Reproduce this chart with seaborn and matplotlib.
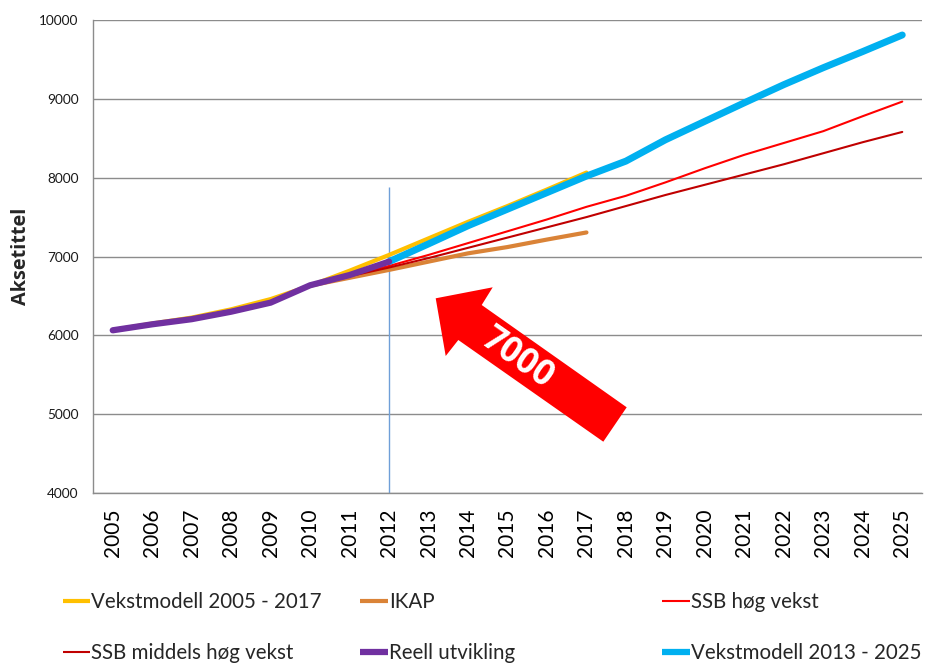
import numpy as np
import pandas as pd
import matplotlib
matplotlib.use("Agg")
import matplotlib.pyplot as plt
import seaborn as sns
from matplotlib.patches import Polygon
from matplotlib.lines import Line2D

# ---------------- data ----------------
years = list(range(2005, 2026))
nan = np.nan
vekst_2005_2017 = [6067, 6150, 6225, 6330, 6460, 6630, 6820, 7020, 7230, 7440, 7640, 7850, 8065] + [nan] * 8
ikap = [nan] * 5 + [6630, 6730, 6830, 6935, 7040, 7120, 7215, 7305] + [nan] * 8
ssb_hog = [nan] * 5 + [6630, 6760, 6880, 7020, 7170, 7320, 7470, 7630, 7770, 7940,
                       8120, 8290, 8440, 8590, 8780, 8965]
ssb_middels = [nan] * 5 + [6630, 6750, 6860, 6980, 7110, 7240, 7370, 7500, 7640, 7780,
                           7910, 8040, 8170, 8310, 8450, 8580]
reell = [6064, 6140, 6205, 6300, 6415, 6635, 6765, 6935] + [nan] * 13
vekst_2013_2025 = [nan] * 7 + [6935, 7160, 7390, 7600, 7810, 8020, 8210, 8480, 8715,
                               8950, 9180, 9395, 9600, 9810]

series_names = ["Vekstmodell 2005 - 2017", "IKAP", "SSB høg vekst",
                "SSB middels høg vekst", "Reell utvikling", "Vekstmodell 2013 - 2025"]
series_values = [vekst_2005_2017, ikap, ssb_hog, ssb_middels, reell, vekst_2013_2025]
series_colors = ["#FFC000", "#DA8337", "#FF0000", "#C00000", "#7030A0", "#00B0F0"]
series_widths = [3.0, 3.0, 1.5, 1.5, 4.5, 5.0]
draw_order = [0, 1, 2, 3, 5, 4]

marker_year = 2012
marker_top = 7880
arrow_label = "7000"

# ---------------- style ----------------
sns.set_style("white")
plt.rcParams["font.family"] = ["Lato", "DejaVu Sans"]
bold_family = ["Open Sans", "DejaVu Sans"]

W, H = 932, 664
fig = plt.figure(figsize=(W / 100, H / 100), dpi=100)
ax = fig.add_axes([93 / W, 1 - 493 / H, (922 - 93) / W, (493 - 20) / H])

x_idx = np.arange(len(years))
for i in draw_order:
    df = pd.DataFrame({"x": x_idx, "y": series_values[i]}).dropna()
    sns.lineplot(data=df, x="x", y="y", ax=ax, color=series_colors[i],
                 linewidth=series_widths[i], legend=False,
                 solid_capstyle="round", solid_joinstyle="round")

# vertical marker line
ax.vlines(years.index(marker_year), 4000, marker_top, color="#6F9FD8", linewidth=1, zorder=1)

ax.set_xlim(-0.5, len(years) - 0.5)
ax.set_ylim(4000, 10000)
ax.set_yticks(range(4000, 10001, 1000))
ax.set_xticks(x_idx)
ax.set_xticklabels([str(y) for y in years], rotation=90)
ax.set_xlabel("")
ax.set_ylabel("")
ax.yaxis.grid(True, color="#8C8C8C", linewidth=1)
ax.xaxis.grid(False)
ax.set_axisbelow(True)
for s in ["top", "right"]:
    ax.spines[s].set_visible(False)
for s in ["left", "bottom"]:
    ax.spines[s].set_color("#8C8C8C")
    ax.spines[s].set_linewidth(1)
ax.tick_params(axis="y", length=0, pad=10.5, labelsize=9.8, labelcolor="#1A1A1A")
ax.tick_params(axis="x", length=0, pad=11, labelsize=15, labelcolor="#000000")

fig.text(21 / W, 1 - 256 / H, "Aksetittel", rotation=90, ha="center", va="center",
         fontsize=14.3, fontweight="bold", family=bold_family)

# arrow annotation (pixel geometry)
arrow_px = [(435.7, 298.3), (492.7, 287.3), (481.7, 305), (626.7, 407.3),
            (603.3, 441.7), (458.3, 340), (445.7, 356)]
poly = Polygon([(px / W, 1 - py / H) for px, py in arrow_px], closed=True,
               facecolor="#FF0000", edgecolor="none", transform=fig.transFigure, zorder=5)
fig.add_artist(poly)
fig.text(517 / W, 1 - 358 / H, arrow_label, rotation=-35, rotation_mode="anchor",
         ha="center", va="center", color="white", fontsize=25, fontweight="bold",
         family=bold_family, zorder=6)

# legend (two rows, three columns)
leg_pos = [(62.7, 602), (360, 602), (662, 602), (62.7, 653), (360, 653), (662, 653)]
leg_order = [0, 1, 2, 3, 4, 5]
leg_widths = [3.0, 3.0, 1.5, 1.5, 4.5, 4.5]
for k, i in enumerate(leg_order):
    h = Line2D([], [], color=series_colors[i], linewidth=leg_widths[i], solid_capstyle="butt")
    fx, fy = leg_pos[k]
    fig.legend(handles=[h], labels=[series_names[i]], loc="center left",
               bbox_to_anchor=(fx / W, 1 - fy / H), bbox_transform=fig.transFigure,
               frameon=False, borderpad=0, borderaxespad=0, handlelength=1.35,
               handletextpad=0.05, fontsize=14.8)

fig.savefig("out.png", dpi=100)
